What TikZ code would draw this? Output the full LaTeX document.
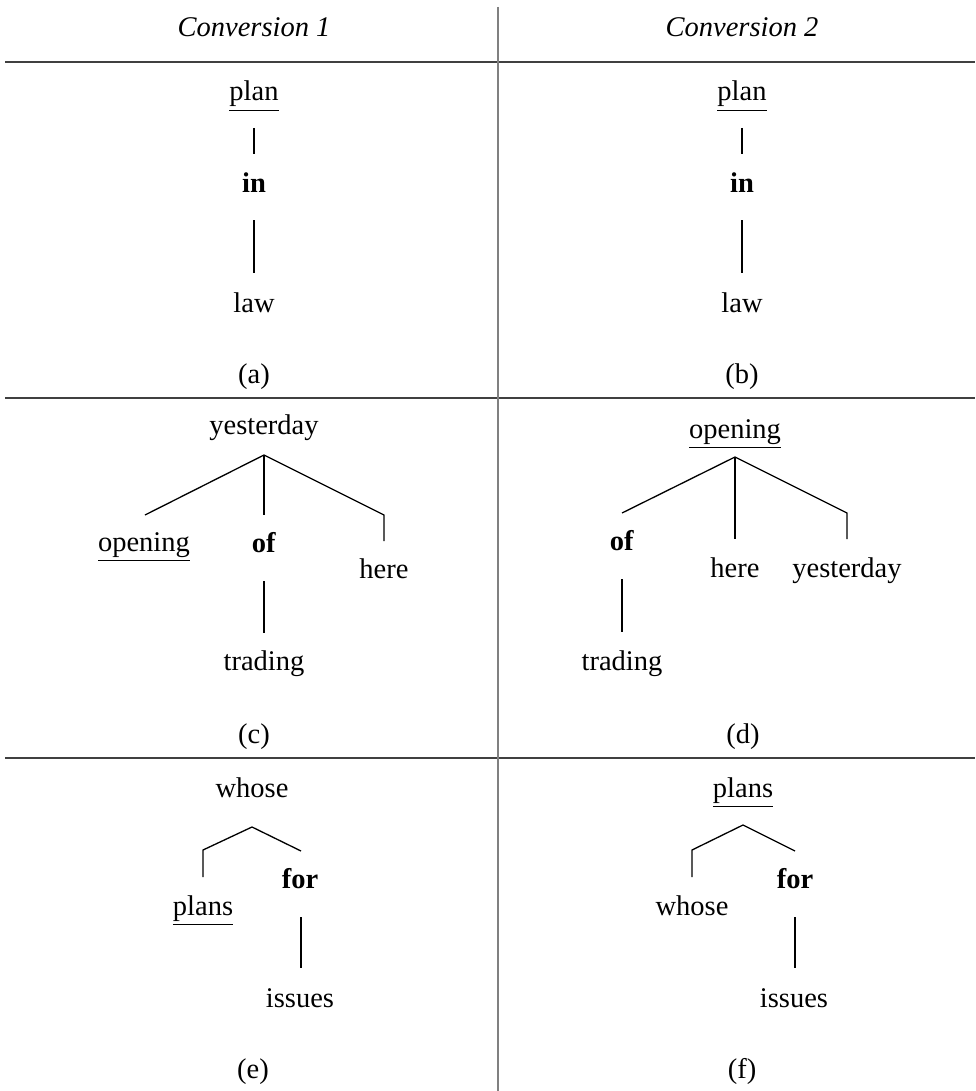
\documentclass[tikz,border=0pt]{standalone}
\usepackage{fontspec}
\setmainfont{Liberation Serif}
\begin{document}
\begin{tikzpicture}[x=0.421pt, y=-0.421pt,
      sana/.style={anchor=base, inner sep=0pt, font=\fontsize{12}{14}\selectfont},
      haara/.style={line width=0.55pt, draw=black},
      raja/.style={line width=0.85pt, draw=black!75}]

      \useasboundingbox (0,0) rectangle (975,1091);

      % Taulukon viivat
      \draw [raja] (5,62) -- (975,62);
      \draw [raja] (5,398) -- (975,398);
      \draw [raja] (5,758) -- (975,758);
      \draw [raja, draw=black!50] (498,7) -- (498,1091);

      % Otsikot
      \node [sana] (otsikko1) at (254,37) {\textit{Conversion 1}};
      \node [sana] (otsikko2) at (742,37) {\textit{Conversion 2}};

      % (a) ja (b)
      \node [sana] (aPlan) at (254,101) {\underline{plan}};
      \node [sana] (aIn) at (254,192) {\textbf{in}};
      \node [sana] (aLaw) at (254,312) {law};
      \node [sana] (aTag) at (254,383) {(a)};
      \coordinate (a1) at (254,128);
      \coordinate (a2) at (254,154);
      \coordinate (a3) at (254,220);
      \coordinate (a4) at (254,273);
      \draw [haara] (a1) -- (a2);
      \draw [haara] (a3) -- (a4);

      \node [sana] (bPlan) at (742,101) {\underline{plan}};
      \node [sana] (bIn) at (742,192) {\textbf{in}};
      \node [sana] (bLaw) at (742,312) {law};
      \node [sana] (bTag) at (742,383) {(b)};
      \coordinate (b1) at (742,128);
      \coordinate (b2) at (742,154);
      \coordinate (b3) at (742,220);
      \coordinate (b4) at (742,273);
      \draw [haara] (b1) -- (b2);
      \draw [haara] (b3) -- (b4);

      % (c)
      \node [sana] (cYesterday) at (264,434) {yesterday};
      \node [sana] (cOpening) at (144,551) {\underline{opening}};
      \node [sana] (cOf) at (264,552) {\textbf{of}};
      \node [sana] (cHere) at (384,578) {here};
      \node [sana] (cTrading) at (264,670) {trading};
      \node [sana] (cTag) at (254,743) {(c)};
      \coordinate (cTop) at (264,455);
      \coordinate (cL) at (145,515);
      \coordinate (cM) at (264,515);
      \coordinate (cR) at (384,515);
      \coordinate (cR2) at (384,541);
      \coordinate (c5) at (264,581);
      \coordinate (c6) at (264,633);
      \draw [haara] (cL) -- (cTop) -- (cR) -- (cR2);
      \draw [haara] (cTop) -- (cM);
      \draw [haara] (c5) -- (c6);

      % (d)
      \node [sana] (dOpening) at (735,438) {\underline{opening}};
      \node [sana] (dOf) at (622,550) {\textbf{of}};
      \node [sana] (dHere) at (735,577) {here};
      \node [sana] (dYesterday) at (847,577) {yesterday};
      \node [sana] (dTrading) at (622,670) {trading};
      \node [sana] (dTag) at (743,743) {(d)};
      \coordinate (dTop) at (735,457);
      \coordinate (dL) at (622,513);
      \coordinate (dM) at (735,539);
      \coordinate (dR) at (847,513);
      \coordinate (dR2) at (847,539);
      \coordinate (d5) at (622,579);
      \coordinate (d6) at (622,632);
      \draw [haara] (dL) -- (dTop) -- (dR) -- (dR2);
      \draw [haara] (dTop) -- (dM);
      \draw [haara] (d5) -- (d6);

      % (e)
      \node [sana] (eWhose) at (252,797) {whose};
      \node [sana] (eFor) at (300,888) {\textbf{for}};
      \node [sana] (ePlans) at (203,915) {\underline{plans}};
      \node [sana] (eIssues) at (300,1007) {issues};
      \node [sana] (eTag) at (253,1078) {(e)};
      \coordinate (eTop) at (252,827);
      \coordinate (eL) at (203,850);
      \coordinate (eL2) at (203,877);
      \coordinate (eR) at (301,851);
      \coordinate (e5) at (301,917);
      \coordinate (e6) at (301,968);
      \draw [haara] (eL2) -- (eL) -- (eTop) -- (eR);
      \draw [haara] (e5) -- (e6);

      % (f)
      \node [sana] (fPlans) at (743,797) {\underline{plans}};
      \node [sana] (fFor) at (795,888) {\textbf{for}};
      \node [sana] (fWhose) at (692,915) {whose};
      \node [sana] (fIssues) at (794,1007) {issues};
      \node [sana] (fTag) at (742,1078) {(f)};
      \coordinate (fTop) at (743,825);
      \coordinate (fL) at (692,850);
      \coordinate (fL2) at (692,877);
      \coordinate (fR) at (795,851);
      \coordinate (f5) at (795,917);
      \coordinate (f6) at (795,968);
      \draw [haara] (fL2) -- (fL) -- (fTop) -- (fR);
      \draw [haara] (f5) -- (f6);
    \end{tikzpicture}
\end{document}
